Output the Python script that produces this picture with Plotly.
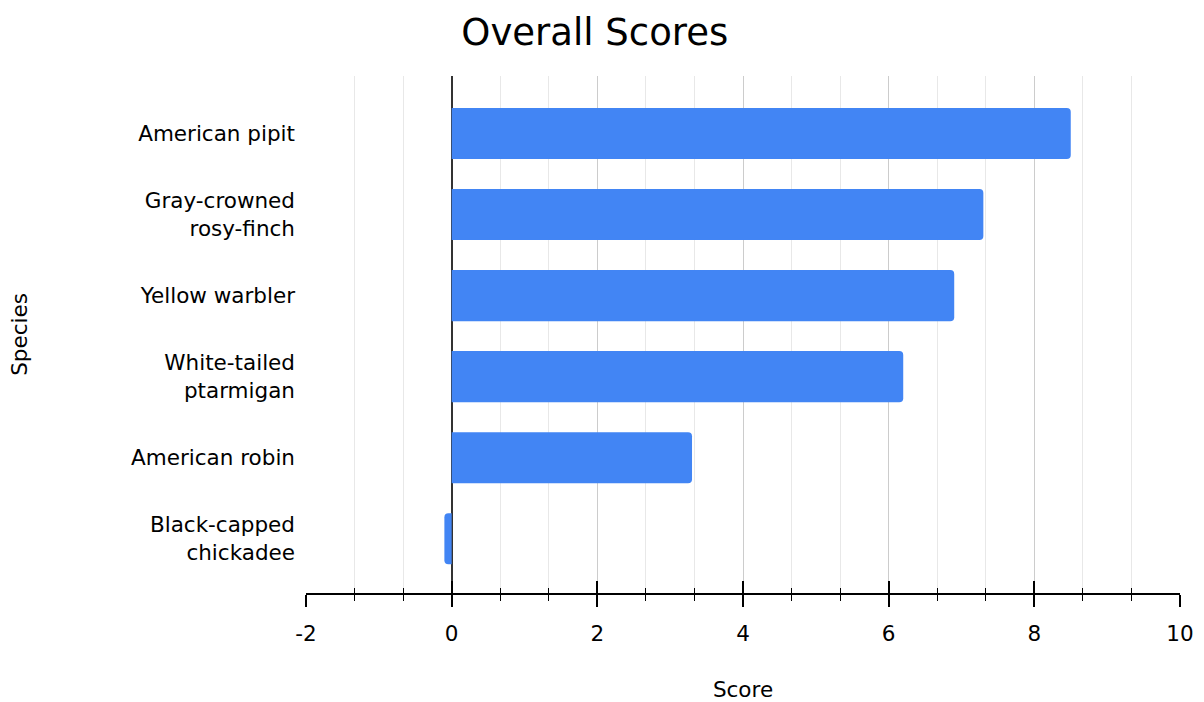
import plotly.graph_objects as go

species = [
    "American pipit",
    "Gray-crowned<br>rosy-finch",
    "Yellow warbler",
    "White-tailed<br>ptarmigan",
    "American robin",
    "Black-capped<br>chickadee",
]
scores = [8.5, 7.3, 6.9, 6.2, 3.3, -0.1]
x_ticks = [-2, 0, 2, 4, 6, 8, 10]

FONT = "DejaVu Sans"
FS = 21.5
fig = go.Figure()
fig.add_trace(go.Bar(
    x=scores, y=species, orientation="h",
    marker=dict(color="#4285F4", line=dict(width=0)),
    hoverinfo="x+y",
))
# invisible trace to carry the overlay axis (inward tick half)
fig.add_trace(go.Scatter(x=[None], y=[None], xaxis="x2", yaxis="y",
                         mode="markers", showlegend=False, hoverinfo="skip"))

fig.update_layout(
    width=1204, height=702,
    margin=dict(l=306, r=24, t=76, b=109),
    paper_bgcolor="white", plot_bgcolor="white",
    bargap=0.37,
    barcornerradius=4,
    showlegend=False,
    font=dict(family=FONT, color="#000000", size=FS),
    title=dict(text="Overall Scores", font=dict(family=FONT, size=37, color="#000000"),
               x=0.494, xref="container", xanchor="center",
               y=1 - 32 / 702, yref="container", yanchor="middle"),
    xaxis=dict(
        range=[-2, 10], tickmode="array", tickvals=x_ticks,
        ticktext=[str(v) for v in x_ticks],
        showgrid=True, gridcolor="#cccccc", gridwidth=1,
        zeroline=True, zerolinecolor="#333333", zerolinewidth=1.5,
        showline=True, linecolor="#000000", linewidth=1.5,
        ticks="outside", ticklen=12, tickwidth=1.5, tickcolor="#000000",
        ticklabelstandoff=8,
        minor=dict(dtick=2 / 3, tick0=-2, ticks="outside", ticklen=6, tickwidth=1.2,
                   tickcolor="#000000", showgrid=True, gridcolor="#e8e8e8", gridwidth=1),
        tickfont=dict(family=FONT, size=FS, color="#000000"),
        title=dict(text="Score", font=dict(family=FONT, size=FS, color="#000000"), standoff=40),
        automargin=False,
        fixedrange=True,
    ),
    xaxis2=dict(
        overlaying="x", anchor="y", side="bottom",
        range=[-2, 10], tickmode="array", tickvals=x_ticks,
        showticklabels=False, showgrid=False, zeroline=False, showline=False,
        ticks="inside", ticklen=12, tickwidth=1.5, tickcolor="#000000",
        minor=dict(dtick=2 / 3, tick0=-2, ticks="inside", ticklen=5, tickwidth=1.2,
                   tickcolor="#000000", showgrid=False),
    ),
    yaxis=dict(
        range=[5.67, -0.71], type="category",
        showgrid=False, zeroline=False, showline=False, ticks="",
        ticklabelstandoff=10,
        tickfont=dict(family=FONT, size=FS, color="#000000"),
        title=dict(text="Species", font=dict(family=FONT, size=FS, color="#000000"), standoff=97),
        automargin=False,
        fixedrange=True,
    ),
)

fig.write_html("out.html")
